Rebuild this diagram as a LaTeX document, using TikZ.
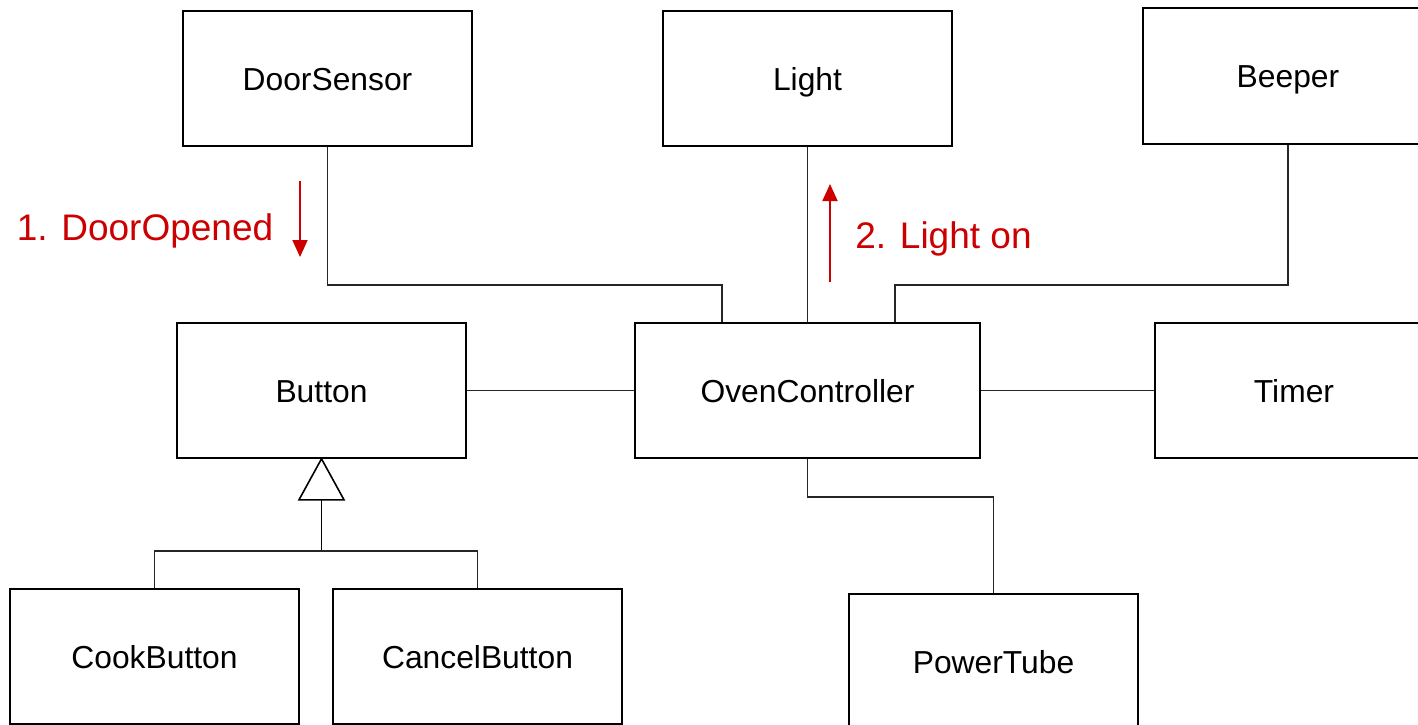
\documentclass[tikz,border=0pt]{standalone}
\usepackage{fontspec}
\setmainfont{Liberation Sans}
\usetikzlibrary{arrows.meta}
\definecolor{msgred}{RGB}{204,0,0}
\begin{document}
\begin{tikzpicture}[x=1pt,y=-1pt,
  classbox/.style={draw=black,line width=1.6pt,rectangle,inner sep=0pt,
    minimum width=289pt,minimum height=135pt,
    font=\fontsize{31.8}{38}\selectfont,text height=23pt,text depth=0pt},
  link/.style={draw=black!85,line width=1.1pt},
  msgarrow/.style={draw=msgred,line width=1.8pt,-{Triangle[width=15pt,length=17pt]}},
  msglabel/.style={text=msgred,font=\fontsize{37}{44}\selectfont,inner sep=0pt,anchor=base}]
\useasboundingbox (0,0) rectangle (1418,724);
\clip (0,0) rectangle (1418,724);
\fill[white] (0,0) rectangle (1418,724);

% classes
\node[classbox] (DoorSensor) at (327.5,78.5) {DoorSensor};
\node[classbox] (Light) at (807.5,78.5) {Light};
\node[classbox,minimum width=290pt,minimum height=136pt] (Beeper) at (1288,76) {Beeper};
\node[classbox] (Button) at (321.5,390.5) {Button};
\node[classbox,minimum width=345pt] (OvenController) at (807.5,390.5) {OvenController};
\node[classbox,minimum width=278pt] (Timer) at (1294,390.5) {Timer};
\node[classbox] (CookButton) at (154.5,656.5) {CookButton};
\node[classbox] (CancelButton) at (477.5,656.5) {CancelButton};
\node[classbox] (PowerTube) at (993.5,661.5) {PowerTube};

% associations
\coordinate (dsBend) at (722,285);
\coordinate (bpBend) at (895,285);
\coordinate (ptBend) at (993.5,497);
\draw[link] (DoorSensor.south) |- (dsBend) -- (OvenController.north -| dsBend);
\draw[link] (Light.south) -- (OvenController.north);
\draw[link] (Beeper.south) |- (bpBend) -- (OvenController.north -| bpBend);
\draw[link] (Button.east) -- (OvenController.west);
\draw[link] (OvenController.east) -- (Timer.west);
\draw[link] (OvenController.south) |- (ptBend) -- (PowerTube.north);

% generalization
\coordinate (triBase) at (321.5,499);
\coordinate (fork) at (321.5,551);
\draw[line width=1.6pt,line join=miter,fill=white] (Button.south) -- ++(-22.5,41) -- ++(45,0) -- cycle;
\draw[line width=1.6pt] (triBase) -- (fork);
\draw[link] (CookButton.north) |- (fork) -| (CancelButton.north);

% messages
\coordinate (m1a) at (300,181);
\coordinate (m1b) at (300,257);
\coordinate (m2a) at (830,282);
\coordinate (m2b) at (830,184);
\draw[msgarrow] (m1a) -- (m1b);
\draw[msgarrow] (m2a) -- (m2b);
\node[msglabel] (msg1) at (145,240) {1. DoorOpened};
\node[msglabel] (msg2) at (943.5,248) {2. Light on};
\end{tikzpicture}
\end{document}
